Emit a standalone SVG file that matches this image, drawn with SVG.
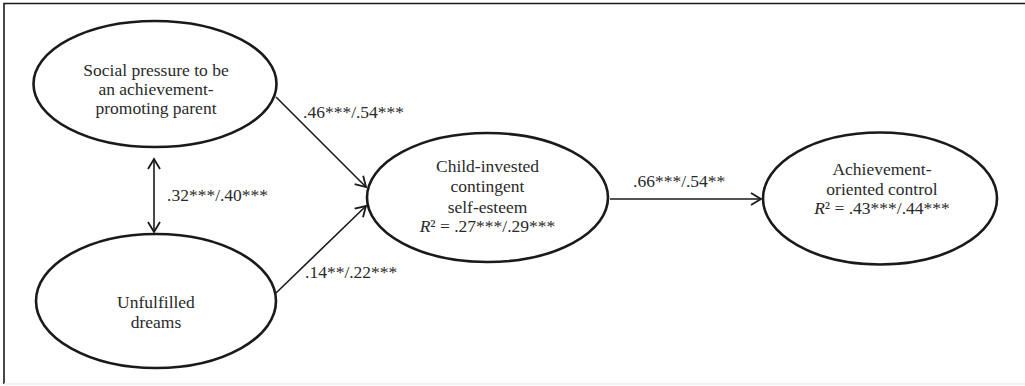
<svg xmlns="http://www.w3.org/2000/svg" width="1025" height="386" viewBox="0 0 1025 386">
<style>
text{font-family:"Liberation Serif","Times New Roman",serif;font-size:17.5px;fill:#2a2a2a}
.n{text-anchor:middle}
.node ellipse{fill:#fff;stroke:#1a1a1a;stroke-width:2.6}
.c{stroke:#1a1a1a;stroke-width:1.6;fill:none}
</style>
<defs>
<marker id="ah" markerUnits="userSpaceOnUse" viewBox="-12 -8 14 16" refX="0" refY="0" markerWidth="14" markerHeight="16" orient="auto-start-reverse">
<path d="M-10,-6 L0,0 L-10,6" fill="none" stroke="#1a1a1a" stroke-width="1.8"/>
</marker>
</defs>
<rect x="0" y="0" width="1025" height="386" fill="#fff"/>
<path d="M4,384 L4,3.5 L1025,3.5" fill="none" stroke="#1a1a1a" stroke-width="1.6"/>
<path d="M4,384 L1025,384" stroke="#eeeeee" stroke-width="1.5"/>
<g id="connectors">
<line class="c" x1="154" y1="159" x2="154" y2="232" stroke-width="2" marker-start="url(#ah)" marker-end="url(#ah)"/>
<line class="c" x1="276" y1="97" x2="366" y2="187" marker-end="url(#ah)"/>
<line class="c" x1="276" y1="293" x2="366" y2="206" marker-end="url(#ah)"/>
<line class="c" x1="610" y1="199" x2="761" y2="199" stroke-width="2" marker-end="url(#ah)"/>
<text x="167" y="201">.32***/.40***</text>
<text x="303" y="118">.46***/.54***</text>
<text x="305" y="278">.14**/.22***</text>
<text x="633" y="187">.66***/.54**</text>
</g>
<g id="social" class="node">
<ellipse cx="155" cy="84" rx="121.5" ry="63"/>
<text class="n" x="156" y="76">Social pressure to be</text>
<text class="n" x="156" y="95">an achievement-</text>
<text class="n" x="156" y="114">promoting parent</text>
</g>
<g id="dreams" class="node">
<ellipse cx="156" cy="301" rx="120" ry="67"/>
<text class="n" x="156" y="308">Unfulfilled</text>
<text class="n" x="156" y="328">dreams</text>
</g>
<g id="selfesteem" class="node">
<ellipse cx="487.5" cy="197.5" rx="120.5" ry="64.5"/>
<text class="n" x="487.5" y="172">Child-invested</text>
<text class="n" x="487.5" y="192">contingent</text>
<text class="n" x="487.5" y="213">self-esteem</text>
<text class="n" x="487.5" y="232"><tspan font-style="italic">R</tspan>² = .27***/.29***</text>
</g>
<g id="control" class="node">
<ellipse cx="880" cy="198.5" rx="117" ry="66"/>
<text class="n" x="882" y="175">Achievement-</text>
<text class="n" x="882" y="195">oriented control</text>
<text class="n" x="882" y="214"><tspan font-style="italic">R</tspan>² = .43***/.44***</text>
</g>
</svg>
